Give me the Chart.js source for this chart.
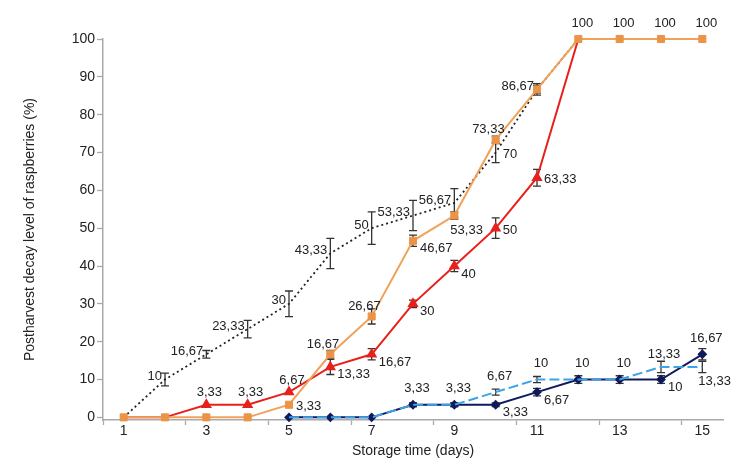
<!DOCTYPE html>
<html>
<head>
<meta charset="utf-8">
<script src="https://cdn.jsdelivr.net/npm/chart.js@4"></script>
<style>
html,body{margin:0;padding:0;background:#fff;}
#wrap{width:737px;height:464px;position:relative;}
</style>
</head>
<body>
<div id="wrap"><canvas id="c" width="737" height="464"></canvas></div>
<script>
// ---- data ----
const days = ['1','2','3','4','5','6','7','8','9','10','11','12','13','14','15'];
const yTicks = [0,10,20,30,40,50,60,70,80,90,100];

const controlValues = [0, 10, 16.67, 23.33, 30, 43.33, 50, 53.33, 56.67, 70, 86.67, 100, 100, 100, 100];
const controlErr    = [0, 1.67, 1, 2.3, 3.4, 4, 4.3, 4, 3.8, 2.7, 1.5, 0, 0, 0, 0];

const orangeValues = [0, 0, 0, 0, 3.33, 16.67, 26.67, 46.67, 53.33, 73.33, 86.67, 100, 100, 100, 100];
const orangeErr    = [0, 0, 0, 0, 0, 1, 2, 1.5, 1, 1, 1, 0, 0, 0, 0];

const redValues = [0, 0, 3.33, 3.33, 6.67, 13.33, 16.67, 30, 40, 50, 63.33, 100, 100, 100, 100];
const redErr    = [0, 0, 0, 0, 0, 2, 1.5, 1, 1.5, 2.7, 2.2, 0, 0, 0, 0];

const navyValues = [null, null, null, null, 0, 0, 0, 3.33, 3.33, 3.33, 6.67, 10, 10, 10, 16.67];
const navyErr    = [0, 0, 0, 0, 0, 0, 0, 0.5, 0.5, 0.5, 1, 1, 1, 1, 1.5];

const blueValues = [null, null, null, null, 0, 0, 0, 3.33, 3.33, 6.67, 10, 10, 10, 13.33, 13.33];
const blueErr    = [0, 0, 0, 0, 0, 0, 0, 0.5, 0.5, 0.8, 0.8, 0, 0, 1.5, 1.5];

// label placement codes (presentation only)
const controlLab = [null,'l','l','l','l','l','l','l','l','r',null,null,null,null,null];
const orangeLab  = [null,null,null,null,'r','al','al','rb','br','al','l','A','A','A','A'];
const redLab     = [null,null,'a','a','a','rb','rb','rb','rb','r','r',null,null,null,null];
const navyLab    = [null,null,null,null,null,null,null,'A','A','rb','rb','A','A','rb','A'];
const blueLab    = [null,null,null,null,null,null,null,null,null,'A','A',null,null,'a','br'];

const FONT = "'Liberation Sans', Arial, Helvetica, sans-serif";

function fmt(v){
  if (Math.abs(v - Math.round(v)) < 1e-6) return String(Math.round(v));
  return v.toFixed(2).replace('.', ',');
}

const PLACE = {
  a:  {dx: 3, dy: -12, align: 'center'},
  A:  {dx: 4, dy: -16, align: 'center'},
  l:  {dx: -3, dy: -3, align: 'right'},
  r:  {dx: 7, dy: 2, align: 'left'},
  rb: {dx: 7, dy: 8, align: 'left'},
  al: {dx: 9, dy: -10, align: 'right'},
  br: {dx: -4, dy: 15, align: 'left'}
};

const errorBars = {
  id: 'errorBars',
  beforeDatasetsDraw(chart) {
    const ctx = chart.ctx;
    const y = chart.scales.y;
    ctx.save();
    ctx.strokeStyle = '#333';
    ctx.lineWidth = 1.3;
    chart.data.datasets.forEach((ds, di) => {
      const meta = chart.getDatasetMeta(di);
      ds.data.forEach((v, i) => {
        const e = ds.errors[i];
        if (v === null || !e) return;
        const px = meta.data[i].x;
        const top = y.getPixelForValue(v + e);
        const bot = y.getPixelForValue(v - e);
        ctx.beginPath();
        ctx.moveTo(px, top); ctx.lineTo(px, bot);
        ctx.moveTo(px - 4, top); ctx.lineTo(px + 4, top);
        ctx.moveTo(px - 4, bot); ctx.lineTo(px + 4, bot);
        ctx.stroke();
      });
    });
    ctx.restore();
  }
};

const dataLabels = {
  id: 'dataLabels',
  afterDatasetsDraw(chart) {
    const ctx = chart.ctx;
    ctx.save();
    ctx.font = '13px ' + FONT;
    ctx.fillStyle = '#222';
    ctx.textBaseline = 'middle';
    chart.data.datasets.forEach((ds, di) => {
      const meta = chart.getDatasetMeta(di);
      ds.data.forEach((v, i) => {
        const code = ds.labelPos[i];
        if (v === null || !code) return;
        const p = PLACE[code];
        const el = meta.data[i];
        ctx.textAlign = p.align;
        ctx.fillText(fmt(v), el.x + p.dx, el.y + p.dy);
      });
    });
    ctx.restore();
  }
};

new Chart(document.getElementById('c'), {
  type: 'line',
  data: {
    labels: days,
    datasets: [
      {
        label: 'Orange', data: orangeValues, errors: orangeErr, labelPos: orangeLab,
        borderColor: '#F0A25A', borderWidth: 2, clip: false,
        pointStyle: 'rect', pointRadius: 5, pointBackgroundColor: '#EB9447', pointBorderColor: '#EB9447',
        pointBorderWidth: 1, tension: 0, fill: false
      },
      {
        label: 'Control', data: controlValues, errors: controlErr, labelPos: controlLab,
        borderColor: '#222', borderWidth: 1.8, borderDash: [2, 3], clip: false,
        pointRadius: 0, pointHoverRadius: 0, tension: 0, fill: false
      },
      {
        label: 'Light blue', data: blueValues, errors: blueErr, labelPos: blueLab,
        borderColor: '#3BA3E6', borderWidth: 2, borderDash: [10, 4], clip: false,
        pointRadius: 0, tension: 0, fill: false
      },
      {
        label: 'Red', data: redValues, errors: redErr, labelPos: redLab,
        borderColor: '#E8201C', borderWidth: 2, clip: false,
        pointStyle: 'triangle',
        pointRadius: (c) => (c.raw >= 100 || (c.raw === 0)) ? 0 : 4.5,
        pointBackgroundColor: '#E8201C', pointBorderColor: '#E8201C',
        tension: 0, fill: false
      },
      {
        label: 'Navy', data: navyValues, errors: navyErr, labelPos: navyLab,
        borderColor: '#0E1A5C', borderWidth: 2, clip: false,
        pointStyle: 'rectRot', pointRadius: 3.5, pointBackgroundColor: '#0E1A5C', pointBorderColor: '#0E1A5C',
        tension: 0, fill: false
      }
    ]
  },
  options: {
    responsive: false,
    animation: false,
    devicePixelRatio: 1,
    layout: { padding: { left: 0, top: 39, right: 14, bottom: 0 } },
    plugins: { legend: { display: false }, tooltip: { enabled: false } },
    scales: {
      x: {
        type: 'category',
        offset: true,
        afterFit(s) { s.height = 44; },
        grid: {
          display: true, drawOnChartArea: false, drawTicks: true, tickLength: 5, offset: true,
          tickColor: (c) => (c.index !== undefined && c.index % 2 === 0) ? '#aaa' : 'rgba(0,0,0,0)',
          tickWidth: 1.3
        },
        border: { display: true, color: '#aaa', width: 1.5 },
        ticks: {
          autoSkip: false, maxRotation: 0, padding: -2,
          color: '#222', font: { family: FONT, size: 14 },
          callback: function(val, i) { return i % 2 === 0 ? days[i] : ''; }
        },
        title: {
          display: true, text: 'Storage time (days)', color: '#222',
          font: { family: FONT, size: 14 }, padding: { top: 0, bottom: 4 }
        }
      },
      y: {
        min: -0.7, max: 100,
        afterFit(s) { s.width = 103; },
        afterBuildTicks(s) { s.ticks = yTicks.map(v => ({ value: v })); },
        grid: { display: true, drawOnChartArea: false, drawTicks: true, tickLength: 6, tickColor: '#aaa', tickWidth: 1.3 },
        border: { display: true, color: '#aaa', width: 1.5 },
        ticks: { padding: 2, color: '#222', font: { family: FONT, size: 14 } },
        title: {
          display: true, text: 'Postharvest decay level of raspberries (%)', color: '#222',
          font: { family: FONT, size: 14 }, padding: { top: 22, bottom: 0 }
        }
      }
    }
  },
  plugins: [errorBars, dataLabels]
});
</script>
</body>
</html>
